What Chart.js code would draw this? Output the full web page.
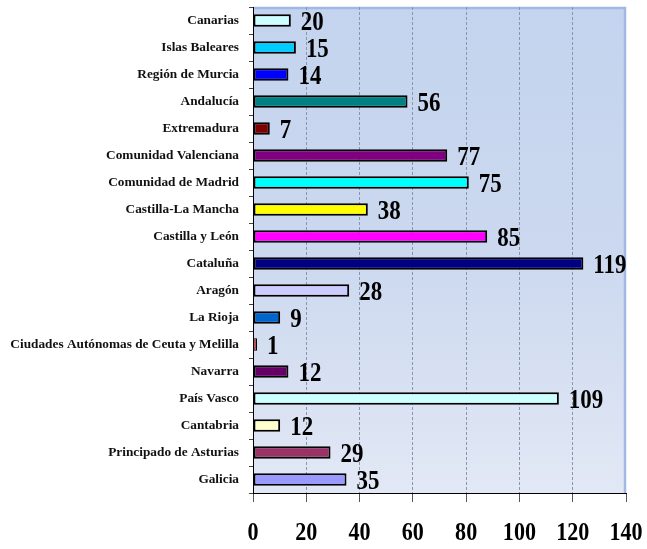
<!DOCTYPE html>
<html>
<head>
<meta charset="utf-8">
<script src="https://cdn.jsdelivr.net/npm/chart.js@4/dist/chart.umd.min.js"></script>
<style>
	body { margin: 0; background: #fff; }
</style>
</head>
<body>
<canvas id="chart" width="647" height="549"></canvas>
<script>
/* Regions, top to bottom as in the picture */
var regions = [
	'Canarias', 'Islas Baleares', 'Región de Murcia', 'Andalucía',
	'Extremadura', 'Comunidad Valenciana', 'Comunidad de Madrid',
	'Castilla-La Mancha', 'Castilla y León', 'Cataluña', 'Aragón',
	'La Rioja', 'Ciudades Autónomas de Ceuta y Melilla', 'Navarra',
	'País Vasco', 'Cantabria', 'Principado de Asturias', 'Galicia'
];

/* Bar lengths as drawn (read against the x axis) */
var barValues = [14.2, 16.1, 13.3, 58, 6.3, 72.9, 81, 43.1, 87.9, 124,
                 36.1, 10.2, 1.5, 13.3, 114.8, 10.2, 29.1, 35.1];

/* Numbers printed next to each bar */
var valueLabels = [20, 15, 14, 56, 7, 77, 75, 38, 85, 119,
                   28, 9, 1, 12, 109, 12, 29, 35];

var barColors = ['#CCFFFF', '#00CCFF', '#0000FF', '#008080', '#800000',
                 '#800080', '#00FFFF', '#FFFF00', '#FF00FF', '#000080',
                 '#CCCCFF', '#0066CC', '#C0504D', '#660066', '#CCFFFF',
                 '#FFFFCC', '#993366', '#9999FF'];

var xTicks = [0, 20, 40, 60, 80, 100, 120, 140];

var serif = "'Liberation Serif', 'Times New Roman', serif";

/* Draws text squeezed horizontally, like the narrow numbers of the original */
function narrowText(ctx, text, x, y, size, align) {
	ctx.save();
	ctx.font = 'bold ' + size + 'px ' + serif;
	ctx.fillStyle = '#000';
	ctx.textBaseline = 'middle';
	ctx.textAlign = align;
	ctx.translate(x, y);
	ctx.scale(0.85, 1);
	ctx.fillText(text, 0, 0);
	ctx.restore();
}

/* Plot background: blue gradient with a darker frame top and right */
var plotBackground = {
	id: 'plotBackground',
	beforeDraw: function(chart) {
		var ctx = chart.ctx;
		var a = chart.chartArea;
		var grad = ctx.createLinearGradient(0, a.top, 0, a.bottom);
		grad.addColorStop(0, '#c4d4ee');
		grad.addColorStop(0.5, '#cbd8ef');
		grad.addColorStop(1, '#e2e8f5');
		ctx.save();
		ctx.fillStyle = grad;
		ctx.fillRect(a.left, a.top, a.right - a.left, a.bottom - a.top);
		ctx.strokeStyle = '#9fb8e5';
		ctx.lineWidth = 2.5;
		ctx.beginPath();
		ctx.moveTo(a.left, a.top + 1);
		ctx.lineTo(a.right - 1, a.top + 1);
		ctx.lineTo(a.right - 1, a.bottom);
		ctx.stroke();
		ctx.restore();
	}
};

/* Value labels beside the bars and big x tick numbers */
var textLayer = {
	id: 'textLayer',
	afterDatasetsDraw: function(chart) {
		var ctx = chart.ctx;
		var bars = chart.getDatasetMeta(0).data;
		for (var i = 0; i < bars.length; i++) {
			narrowText(ctx, String(valueLabels[i]), bars[i].x + 10, bars[i].y + 3, 27, 'left');
		}
		var xs = chart.scales.x;
		for (var j = 0; j < xTicks.length; j++) {
			narrowText(ctx, String(xTicks[j]), xs.getPixelForValue(xTicks[j]), 533, 26, 'center');
		}
	}
};

var ctx = document.getElementById('chart').getContext('2d');

var chart = new Chart(ctx, {
	type: 'bar',
	data: {
		labels: regions,
		datasets: [{
			data: barValues,
			backgroundColor: barColors,
			borderColor: '#000',
			borderWidth: function(c) { return c.raw < 3 ? 1 : 2; },
			borderSkipped: false,
			categoryPercentage: 1,
			barPercentage: 0.47
		}]
	},
	options: {
		indexAxis: 'y',
		responsive: false,
		animation: false,
		devicePixelRatio: 1,
		layout: {
			autoPadding: false,
			padding: { left: 0, right: 21, top: 7, bottom: 0 }
		},
		plugins: {
			legend: { display: false },
			tooltip: { enabled: false }
		},
		scales: {
			x: {
				min: 0,
				max: 140,
				afterFit: function(scale) {
					scale.height = 56;
					scale.paddingLeft = 0;
					scale.paddingRight = 0;
				},
				ticks: {
					stepSize: 20,
					color: 'rgba(0,0,0,0)',
					font: { size: 12 }
				},
				grid: {
					color: function(c) {
						if (c.tick && (c.tick.value === 0 || c.tick.value === 140)) return 'rgba(0,0,0,0)';
						return '#8796ae';
					},
					tickColor: '#555',
					tickLength: 9,
					tickBorderDash: []
				},
				border: {
					color: '#000',
					width: 1,
					dash: [3, 2]
				}
			},
			y: {
				afterFit: function(scale) {
					scale.width = 253;
					scale.paddingTop = 0;
					scale.paddingBottom = 0;
				},
				ticks: {
					autoSkip: false,
					color: '#111',
					padding: 10,
					font: { family: serif, size: 13.3, weight: 'bold' }
				},
				grid: {
					offset: true,
					drawOnChartArea: false,
					tickLength: 4,
					tickColor: '#444'
				},
				border: {
					color: '#000',
					width: 1
				}
			}
		}
	},
	plugins: [plotBackground, textLayer]
});
</script>
</body>
</html>
